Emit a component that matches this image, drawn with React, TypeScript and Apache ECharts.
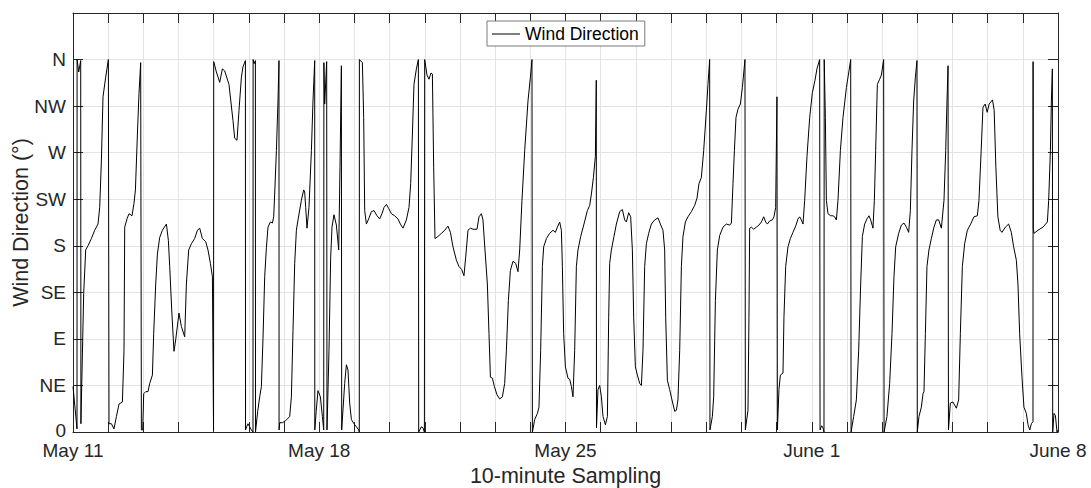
import React, { useEffect, useRef } from "react";
import * as echarts from "echarts";

const dateLabels = ["May 11", "May 18", "May 25", "June 1", "June 8"];
const compassLabels = ["0", "NE", "E", "SE", "S", "SW", "W", "NW", "N"];

// days since May 11 00:00
const sampleDay = [
  0.000, 0.114, 0.116, 0.162, 0.219, 0.225, 0.304, 0.361, 0.426, 0.523, 0.617, 0.711, 0.759, 0.807, 0.853, 0.929, 1.006,
  1.023, 1.092, 1.165, 1.234, 1.308, 1.404, 1.450, 1.470, 1.535, 1.592, 1.677, 1.734, 1.774, 1.831, 1.876, 1.924,
  1.944, 1.981, 2.010, 2.067, 2.132, 2.180, 2.257, 2.294, 2.351, 2.399, 2.464, 2.541, 2.655, 2.712, 2.749, 2.806,
  2.871, 2.919, 3.013, 3.081, 3.175, 3.223, 3.289, 3.366, 3.459, 3.536, 3.602, 3.678, 3.772, 3.837, 3.906, 3.963,
  3.995, 4.000, 4.008, 4.076, 4.170, 4.247, 4.312, 4.434, 4.548, 4.596, 4.662, 4.719, 4.787, 4.832, 4.901,
  4.904, 4.937, 4.974, 5.023, 5.071, 5.117, 5.120, 5.150, 5.185, 5.188, 5.250, 5.307, 5.355, 5.401, 5.449, 5.497,
  5.543, 5.611, 5.668, 5.705, 5.733, 5.782, 5.827, 5.855, 5.858, 5.876, 5.952, 6.046, 6.160, 6.208, 6.254, 6.302,
  6.350, 6.396, 6.492, 6.558, 6.586, 6.615, 6.652, 6.708, 6.777, 6.822, 6.871, 6.873, 6.913, 6.964, 7.032, 7.089,
  7.127, 7.132, 7.155, 7.211, 7.220, 7.231, 7.277, 7.325, 7.362, 7.419, 7.487, 7.553, 7.590, 7.629, 7.638, 7.723,
  7.772, 7.817, 7.865, 7.914, 7.987, 8.056, 8.121, 8.138, 8.141, 8.226, 8.263, 8.292, 8.340, 8.405, 8.482, 8.556,
  8.641, 8.718, 8.783, 8.840, 8.909, 8.974, 9.051, 9.144, 9.238, 9.306, 9.380, 9.477, 9.551, 9.599, 9.648, 9.693,
  9.761, 9.818, 9.827, 9.903, 9.949, 9.989, 9.997, 10.063, 10.119, 10.176, 10.216, 10.253, 10.290, 10.375, 10.472,
  10.566, 10.659, 10.728, 10.802, 10.898, 10.972, 11.049, 11.114, 11.163, 11.228, 11.296, 11.370, 11.484, 11.541,
  11.609, 11.654, 11.711, 11.779, 11.825, 11.865, 11.922, 11.978, 12.052, 12.129, 12.206, 12.271, 12.320, 12.376,
  12.433, 12.507, 12.584, 12.649, 12.698, 12.763, 12.840, 12.934, 13.002, 13.047, 13.059, 13.124, 13.201, 13.246,
  13.294, 13.343, 13.380, 13.457, 13.550, 13.644, 13.712, 13.769, 13.834, 13.883, 13.911, 13.948, 13.997, 14.071,
  14.119, 14.167, 14.213, 14.261, 14.309, 14.355, 14.432, 14.525, 14.622, 14.688, 14.736, 14.793, 14.849, 14.875,
  14.881, 14.923, 14.972, 15.020, 15.066, 15.134, 15.191, 15.228, 15.256, 15.304, 15.378, 15.446, 15.540, 15.617,
  15.682, 15.730, 15.796, 15.853, 15.901, 15.938, 15.986, 16.043, 16.109, 16.157, 16.203, 16.251, 16.299, 16.365,
  16.441, 16.535, 16.629, 16.697, 16.771, 16.819, 16.848, 16.896, 16.961, 17.027, 17.104, 17.152, 17.197, 17.246,
  17.294, 17.340, 17.408, 17.482, 17.578, 17.672, 17.738, 17.794, 17.862, 17.928, 18.005, 18.050, 18.098, 18.107,
  18.175, 18.212, 18.261, 18.317, 18.383, 18.477, 18.573, 18.667, 18.716, 18.761, 18.801, 18.846, 18.903, 18.971,
  19.028, 19.102, 19.113, 19.187, 19.215, 19.235, 19.283, 19.349, 19.426, 19.500, 19.568, 19.634, 19.690, 19.739,
  19.804, 19.880, 19.926, 19.974, 20.011, 20.023, 20.068, 20.108, 20.182, 20.210, 20.259, 20.324, 20.392, 20.466,
  20.543, 20.609, 20.657, 20.705, 20.751, 20.799, 20.864, 20.941, 21.018, 21.092, 21.148, 21.225, 21.236, 21.282,
  21.319, 21.348, 21.354, 21.387, 21.416, 21.461, 21.538, 21.603, 21.652, 21.700, 21.746, 21.814, 21.888, 21.985,
  22.058, 22.107, 22.118, 22.192, 22.268, 22.334, 22.391, 22.439, 22.504, 22.570, 22.627, 22.675, 22.740, 22.780,
  22.817, 22.865, 22.931, 22.979, 23.044, 23.056, 23.138, 23.215, 23.281, 23.337, 23.386, 23.471, 23.548, 23.622,
  23.690, 23.755, 23.803, 23.849, 23.897, 23.946, 23.991, 24.000, 24.048, 24.116, 24.162, 24.190, 24.230, 24.275,
  24.332, 24.400, 24.474, 24.543, 24.608, 24.685, 24.759, 24.808, 24.845, 24.874, 24.886, 24.940, 25.014, 25.111,
  25.176, 25.224, 25.281, 25.347, 25.423, 25.518, 25.611, 25.708, 25.753, 25.816, 25.867, 25.930, 25.987, 26.043,
  26.138, 26.186, 26.234, 26.291, 26.356, 26.408, 26.503, 26.597, 26.673, 26.739, 26.816, 26.862, 26.910, 26.976,
  27.032, 27.100, 27.148, 27.197, 27.243, 27.289, 27.292, 27.298, 27.317, 27.431, 27.573, 27.698, 27.735, 27.784,
  27.812, 27.840, 27.849, 27.886, 27.926, 27.972, 28.000,
];

// wind direction in degrees
const windDeg = [
  44, 3, 360, 348, 359, 8, 134, 176, 180, 187, 195, 201, 217, 262, 324, 343, 360,
  8, 8, 3, 15, 27, 29, 79, 198, 206, 211, 209, 221, 234, 288, 327, 357,
  2, 2, 37, 39, 39, 47, 55, 95, 143, 172, 188, 195, 201, 185, 160, 118,
  78, 89, 115, 102, 92, 143, 176, 182, 187, 195, 197, 187, 184, 176, 163, 150,
  2, 358, 357, 348, 338, 351, 349, 336, 301, 284, 282, 311, 343, 353, 359,
  2, 5, 8, 5, 2, 0, 360, 356, 359, 0, 20, 34, 44, 90, 150, 178,
  198, 203, 202, 208, 230, 272, 320, 359, 2, 9, 9, 11, 15, 34, 98, 163,
  195, 205, 224, 234, 232, 217, 197, 217, 272, 320, 359, 2, 20, 40, 34, 15,
  2, 357, 317, 358, 2, 2, 79, 169, 198, 210, 200, 176, 256, 354, 2, 47,
  65, 60, 28, 12, 8, 5, 2, 0, 360, 357, 304, 214, 201, 206, 213, 214,
  209, 206, 211, 217, 220, 216, 211, 209, 206, 201, 197, 205, 217, 240, 288, 336,
  351, 360, 0, 5, 4, 0, 360, 345, 341, 347, 346, 256, 187, 189, 192,
  195, 199, 193, 179, 166, 160, 157, 151, 169, 195, 197, 196, 196, 208,
  211, 205, 176, 143, 95, 53, 52, 44, 36, 32, 34, 47, 79, 127,
  156, 165, 163, 155, 176, 224, 272, 320, 343, 360, 0, 12, 18, 24,
  79, 160, 179, 187, 192, 195, 193, 198, 203, 195, 160, 95, 63, 52,
  51, 44, 34, 79, 160, 176, 189, 201, 214, 219, 230, 246, 266, 340,
  4, 41, 45, 34, 15, 7, 15, 111, 163, 176, 189, 201, 213, 215,
  205, 203, 212, 208, 176, 111, 63, 55, 47, 45, 79, 160, 182, 192,
  201, 205, 207, 201, 195, 176, 111, 50, 41, 31, 20, 21, 31, 79,
  160, 189, 203, 208, 213, 219, 226, 240, 246, 272, 311, 336, 360, 2,
  15, 34, 127, 176, 190, 198, 201, 200, 202, 240, 272, 304, 312, 317,
  333, 360, 2, 21, 111, 197, 198, 196, 198, 200, 203, 208, 203, 201,
  204, 205, 208, 217, 324, 2, 41, 55, 57, 111, 160, 179, 187, 193,
  199, 206, 208, 205, 201, 224, 266, 304, 328, 340, 351, 360, 2, 6,
  4, 0, 360, 304, 224, 211, 209, 209, 208, 205, 224, 272, 304, 333,
  349, 360, 0, 15, 31, 79, 143, 189, 201, 206, 209, 205, 197, 224,
  272, 336, 341, 345, 360, 0, 15, 47, 95, 150, 179, 192, 200, 202,
  198, 193, 214, 272, 320, 343, 359, 0, 15, 24, 37, 39, 95, 160,
  176, 187, 198, 205, 205, 197, 224, 272, 320, 354, 2, 28, 29, 23,
  31, 95, 160, 182, 195, 201, 208, 209, 224, 272, 314, 317, 309, 317,
  321, 311, 256, 208, 195, 193, 198, 201, 193, 179, 166, 143, 95, 53,
  24, 18, 7, 2, 8, 10, 358, 197, 192, 195, 198, 203, 224, 272,
  320, 351, 0, 18, 16, 0, 2,
];

export default function App() {
  const ref = useRef<HTMLDivElement>(null);
  useEffect(() => {
    document.body.style.margin = "0";
    const chart = echarts.init(ref.current!, null, { renderer: "svg" });
    const font = "'Liberation Sans', Arial, Helvetica, sans-serif";
    const axisColor = "#262626";
    const gridColor = "#e3e3e3";
    const data = sampleDay.map((d, i) => [d, windDeg[i]]);
    const lineStyle = { color: axisColor, width: 1 };
    chart.setOption({
      animation: false,
      textStyle: { fontFamily: font },
      grid: { left: 73, right: 33, top: 13, bottom: 56, outerBoundsMode: "none" },
      legend: {
        data: ["Wind Direction"],
        left: 487,
        top: 21,
        icon: "rect",
        itemWidth: 28,
        itemHeight: 1,
        backgroundColor: "#ffffff",
        borderColor: "#7a7a7a",
        borderWidth: 1,
        borderRadius: 0,
        padding: [4, 6, 3, 5],
        selectedMode: false,
        textStyle: { fontSize: 17.5, color: "#000", fontFamily: font },
      },
      xAxis: [
        {
          type: "value",
          position: "bottom",
          min: 0,
          max: 28,
          interval: 1,
          axisLine: { show: true, onZero: false, lineStyle },
          axisTick: { show: true, inside: true, length: 10, lineStyle },
          axisLabel: {
            formatter: (v: number) => (v % 7 === 0 ? dateLabels[v / 7] : ""),
            fontSize: 19,
            lineHeight: 16,
            color: axisColor,
            margin: 10,
            showMinLabel: true,
            showMaxLabel: true,
            fontFamily: font,
          },
          splitLine: { show: true, lineStyle: { color: gridColor, width: 1 } },
          name: "10-minute Sampling",
          nameLocation: "middle",
          nameGap: 33,
          nameMoveOverlap: false,
          nameTextStyle: { fontSize: 21.5, color: axisColor, fontFamily: font },
        },
        {
          type: "value",
          position: "top",
          min: 0,
          max: 28,
          interval: 1,
          axisLine: { show: true, onZero: false, lineStyle },
          axisTick: { show: true, inside: true, length: 10, lineStyle },
          axisLabel: { show: false },
          splitLine: { show: false },
        },
      ],
      yAxis: [
        {
          type: "value",
          position: "left",
          min: 0,
          max: 405,
          interval: 45,
          axisLine: { show: true, onZero: false, lineStyle },
          axisTick: { show: true, inside: true, length: 10, lineStyle },
          axisLabel: {
            formatter: (v: number) => {
              const s = compassLabels[Math.round(v / 45)] ?? "";
              return v === 0 ? "{z|" + s + "}" : s;
            },
            fontSize: 19,
            lineHeight: 14,
            color: axisColor,
            margin: 7,
            showMaxLabel: true,
            fontFamily: font,
            rich: {
              z: { fontSize: 19, lineHeight: 14, color: axisColor, fontFamily: font, padding: [0, 0, 4, 0] },
            },
          },
          splitLine: { show: true, lineStyle: { color: gridColor, width: 1 } },
          name: "Wind Direction (°)",
          nameLocation: "middle",
          nameGap: 41,
          nameMoveOverlap: false,
          nameTextStyle: { fontSize: 21.5, color: axisColor, fontFamily: font },
        },
        {
          type: "value",
          position: "right",
          min: 0,
          max: 405,
          interval: 45,
          axisLine: { show: true, onZero: false, lineStyle },
          axisTick: { show: true, inside: true, length: 10, lineStyle },
          axisLabel: { show: false },
          splitLine: { show: false },
        },
      ],
      series: [
        {
          type: "line",
          name: "Wind Direction",
          xAxisIndex: 0,
          yAxisIndex: 0,
          data,
          showSymbol: false,
          symbol: "none",
          silent: true,
          lineStyle: { color: "#000", width: 1 },
          itemStyle: { color: "#000" },
          emphasis: { disabled: true },
        },
      ],
    });
    return () => chart.dispose();
  }, []);
  return <div ref={ref} style={{ width: 1091, height: 488 }} />;
}
